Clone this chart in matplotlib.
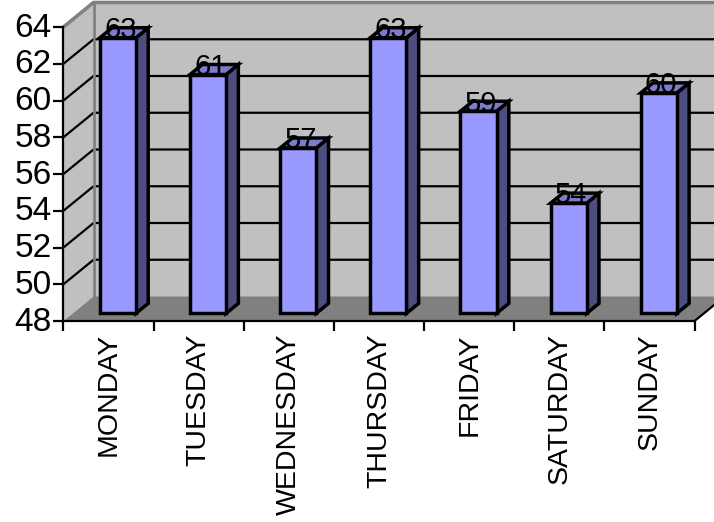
#!/usr/bin/env python3

import numpy as np
import matplotlib

matplotlib.use("Agg")
import matplotlib.pyplot as plt
from matplotlib.patches import Polygon
from matplotlib import transforms

plt.rcParams["font.family"] = ["Liberation Sans", "DejaVu Sans"]

#######################################################
######################## DATOS ########################
#######################################################

days = ["MONDAY", "TUESDAY", "WEDNESDAY", "THURSDAY", "FRIDAY", "SATURDAY", "SUNDAY"]
values = [63, 61, 57, 63, 59, 54, 60]
y_ticks = [48, 50, 52, 54, 56, 58, 60, 62, 64]

#######################################################
####################### ESTILO ########################
#######################################################

Y_MIN, Y_MAX = 48, 64
DX, DY = 0.333, 1.333  # desplazamiento de profundidad (unidades de datos)
BAR_W = 0.4
D0, D1 = 0.31, 0.72  # profundidad de las barras

C_FRONT = "#9999FF"
C_SIDE = "#4D4D80"
C_TOP = "#7C7CCC"
C_WALL = "#C0C0C0"
C_FLOOR = "#808080"


def proj(x, v, d):
    """Proyecta un punto (categoria, valor, profundidad) en 2D."""
    return x + d * DX, v + d * DY


def face(ax, pts, color, ec="black", lw=2.5, z=1):
    ax.add_patch(
        Polygon([proj(*p) for p in pts], closed=True, facecolor=color,
                edgecolor=ec, linewidth=lw, joinstyle="miter", zorder=z)
    )


fig = plt.figure(figsize=(7.14, 5.22), dpi=100)
ax = fig.add_axes([0, 0, 1, 1])
ax.set_xlim(-63.5 / 90.15, (714 - 63.5) / 90.15)
ax.set_ylim(48 - 201 / 18.375, 48 + 321 / 18.375)
ax.axis("off")

n = len(days)

# Paredes y suelo
face(ax, [(0, Y_MIN, 0), (0, Y_MAX, 0), (0, Y_MAX, 1), (0, Y_MIN, 1)], C_WALL, ec="none", z=1)
face(ax, [(0, Y_MIN, 1), (0, Y_MAX, 1), (n, Y_MAX, 1), (n, Y_MIN, 1)], C_WALL, ec="none", z=1)
face(ax, [(0, Y_MIN, 0), (n, Y_MIN, 0), (n, Y_MIN, 1), (0, Y_MIN, 1)], C_FLOOR, ec="none", z=1)

# Rejilla
for v in y_ticks[1:-1]:
    xs, ys = zip(proj(0, v, 0), proj(0, v, 1), proj(n, v, 1))
    ax.plot(xs, ys, color="black", lw=1.6, zorder=2)

# Borde gris de las paredes
xs, ys = zip(proj(0, Y_MAX, 0), proj(0, Y_MAX, 1), proj(n, Y_MAX, 1))
ax.plot(xs, ys, color=C_FLOOR, lw=2.6, zorder=2, solid_capstyle="butt")
xs, ys = zip(proj(0, Y_MAX, 1), proj(0, Y_MIN, 1))
ax.plot(xs, ys, color=C_FLOOR, lw=2.0, zorder=2)

# Ejes
xs, ys = zip(proj(0, Y_MIN, 0), proj(0, Y_MAX, 0))
ax.plot(xs, ys, color="black", lw=1.6, zorder=3)
ax.plot([0] * len(y_ticks), y_ticks, ls="none", marker=0, ms=7, mew=1.6,
        color="black", zorder=3)
xs, ys = zip(proj(0, Y_MIN, 0), proj(n, Y_MIN, 0), proj(n, Y_MIN, 1))
ax.plot(xs, ys, color="black", lw=1.6, zorder=3)
ax.plot(np.arange(n + 1), [Y_MIN] * (n + 1), ls="none", marker=3, ms=7, mew=1.6,
        color="black", zorder=3)

# Etiquetas del eje Y
ytr = transforms.offset_copy(ax.transData, fig=fig, x=-12, y=-1, units="dots")
for v in y_ticks:
    ax.text(0, v, str(v), transform=ytr, ha="right", va="center", fontsize=24)

# Etiquetas del eje X
xtr = transforms.offset_copy(ax.transData, fig=fig, x=0, y=-12, units="dots")
for i, d in enumerate(days):
    ax.text(i + 0.5, Y_MIN, d, transform=xtr, rotation=90, ha="center",
            va="top", fontsize=20.5)

# Barras
for i, v in enumerate(values):
    xl, xr = i + 0.5 - BAR_W / 2, i + 0.5 + BAR_W / 2
    face(ax, [(xr, Y_MIN, D0), (xr, v, D0), (xr, v, D1), (xr, Y_MIN, D1)], C_SIDE, z=4)
    face(ax, [(xl, v, D0), (xr, v, D0), (xr, v, D1), (xl, v, D1)], C_TOP, z=4)
    tx, ty = proj(i + 0.5, v, 0.3)
    ax.text(tx + 0.03, ty, str(v), ha="center", va="baseline", fontsize=21, zorder=5)
    face(ax, [(xl, Y_MIN, D0), (xr, Y_MIN, D0), (xr, v, D0), (xl, v, D0)], C_FRONT, z=6)

fig.savefig("out.png", dpi=100)
